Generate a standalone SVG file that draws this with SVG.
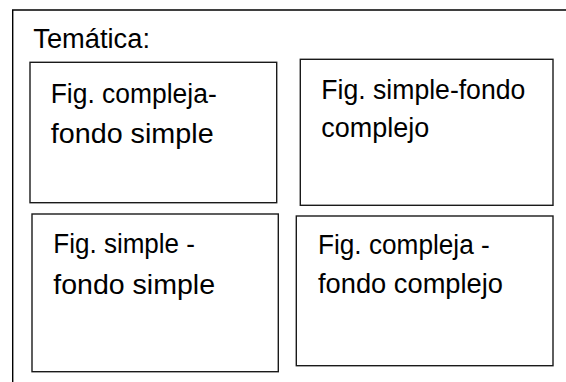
<svg xmlns="http://www.w3.org/2000/svg" width="566" height="382" viewBox="0 0 566 382">
<style>
.box{fill:#fff;stroke:#1a1a1a;stroke-width:1.4}
.frame{fill:none;stroke:#000;stroke-width:1.4}
text{font-family:"Liberation Sans",Arial,sans-serif;font-size:27px;fill:#000}
</style>
<rect width="566" height="382" fill="#fff"/>
<g id="frame">
<path class="frame" d="M12.7,382 V10 H566"/>
<text x="33.3" y="48" textLength="116.7" lengthAdjust="spacingAndGlyphs">Temática:</text>
</g>
<g id="node1">
<rect class="box" x="30" y="62.3" width="246.7" height="140.4"/>
<text x="50.7" y="103" textLength="166" lengthAdjust="spacingAndGlyphs">Fig. compleja-</text>
<text x="50.7" y="142.7" textLength="163" lengthAdjust="spacingAndGlyphs">fondo simple</text>
</g>
<g id="node2">
<rect class="box" x="300.3" y="59.3" width="252.7" height="146"/>
<text x="321.3" y="99.3" textLength="204" lengthAdjust="spacingAndGlyphs">Fig. simple-fondo</text>
<text x="321.3" y="136.7" textLength="108" lengthAdjust="spacingAndGlyphs">complejo</text>
</g>
<g id="node3">
<rect class="box" x="32" y="214" width="246.3" height="157.7"/>
<text x="53.3" y="253.3" textLength="141.7" lengthAdjust="spacingAndGlyphs">Fig. simple -</text>
<text x="53.3" y="294" textLength="161.7" lengthAdjust="spacingAndGlyphs">fondo simple</text>
</g>
<g id="node4">
<rect class="box" x="296.3" y="216" width="256.7" height="149.7"/>
<text x="318" y="254" textLength="171.7" lengthAdjust="spacingAndGlyphs">Fig. compleja -</text>
<text x="318" y="292.7" textLength="185" lengthAdjust="spacingAndGlyphs">fondo complejo</text>
</g>
<g id="connectors"></g>
</svg>
